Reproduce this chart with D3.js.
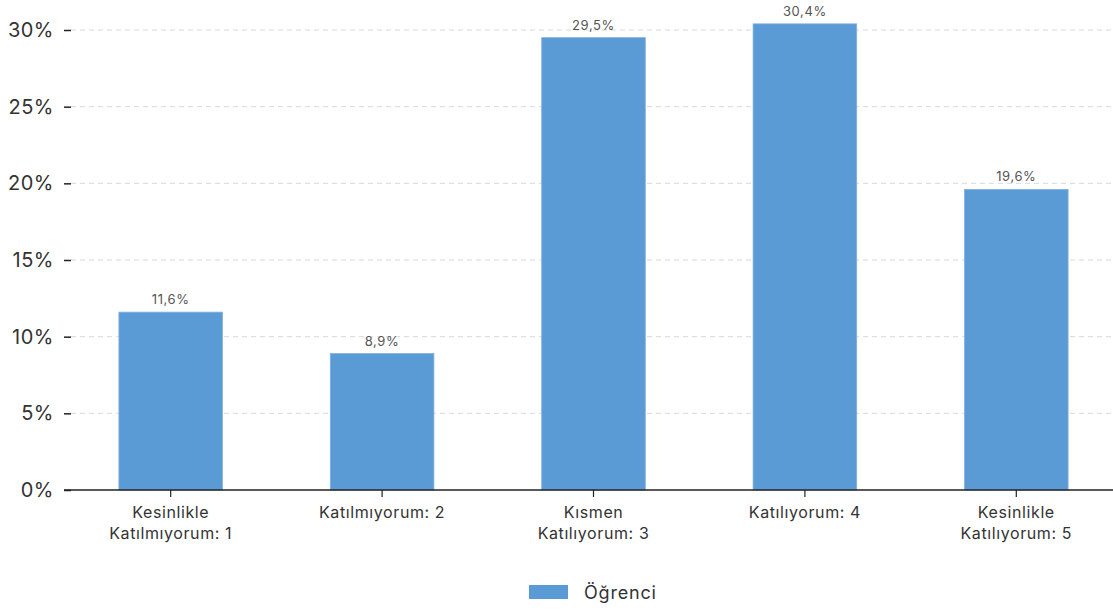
<!DOCTYPE html>
<html><head><meta charset="utf-8">
<script src="https://cdn.jsdelivr.net/npm/d3@7"></script>
<style>body{margin:0;background:#fff;} svg{display:block;font-family:"Inter","Noto Sans",sans-serif;}</style>
</head><body><svg id="c" width="1113" height="613"></svg>
<script>
const categories = [["Kesinlikle","Katılmıyorum: 1"],["Katılmıyorum: 2"],["Kısmen","Katılıyorum: 3"],["Katılıyorum: 4"],["Kesinlikle","Katılıyorum: 5"]];
const values = [11.6, 8.9, 29.5, 30.4, 19.6];
const yTicks = [0,5,10,15,20,25,30];
const seriesName = "Öğrenci";
const color = "#5b9bd5";

const svg = d3.select("#c");
const x = d3.scaleBand().domain(d3.range(categories.length)).range([65,1122]).paddingInner(0.51).paddingOuter(0.255);
const y = d3.scaleLinear().domain([0,30]).range([490,30]);

// grid
svg.append("g").selectAll("line").data(yTicks.filter(d=>d>0)).join("line")
  .attr("x1",71).attr("x2",1113).attr("y1",d=>y(d)).attr("y2",d=>y(d))
  .attr("stroke","#d9d9d9").attr("stroke-dasharray","5,4");

// y axis
const ya = svg.append("g").attr("transform","translate(71,0)")
  .call(d3.axisLeft(y).tickValues(yTicks).tickFormat(d=>d+"%").tickSizeOuter(0).tickSize(7).tickPadding(10));
ya.select(".domain").remove();
ya.selectAll(".tick line").attr("stroke","#222").attr("stroke-width",1.5);
ya.selectAll("text").attr("font-size",20).attr("fill","#333").attr("font-family","Inter,sans-serif").attr("letter-spacing",0.5);

// bars
svg.append("g").selectAll("rect").data(values).join("rect")
  .attr("x",(d,i)=>x(i)).attr("width",x.bandwidth())
  .attr("y",d=>y(d)).attr("height",d=>y(0)-y(d))
  .attr("fill",color).attr("stroke","#7fb0e0").attr("stroke-width",0.8);

// value labels
svg.append("g").selectAll("text").data(values).join("text")
  .attr("x",(d,i)=>x(i)+x.bandwidth()/2).attr("y",d=>y(d)-8)
  .attr("text-anchor","middle").attr("font-size",13).attr("letter-spacing",0.6).attr("fill","#555")
  .text(d=>d.toFixed(1).replace(".",",")+"%");

// x axis
svg.append("line").attr("x1",64).attr("x2",1113).attr("y1",y(0)).attr("y2",y(0)).attr("stroke","#222").attr("stroke-width",1.5);
const xg = svg.append("g").selectAll("g").data(categories).join("g")
  .attr("transform",(d,i)=>`translate(${x(i)+x.bandwidth()/2},${y(0)})`);
xg.append("line").attr("y1",0).attr("y2",7).attr("stroke","#222").attr("stroke-width",1.2);
xg.append("text").attr("text-anchor","middle").attr("font-size",16).attr("letter-spacing",0.6).attr("fill","#333")
  .selectAll("tspan").data(d=>d).join("tspan").attr("x",0).attr("y",(d,i)=>28+i*21).text(d=>d);

// legend
const lg = svg.append("g").attr("transform","translate(529,585)");
lg.append("rect").attr("width",39).attr("height",14).attr("fill",color);
lg.append("text").attr("x",55).attr("y",14).attr("font-size",18).attr("letter-spacing",0.8).attr("fill","#333").text(seriesName);
</script></body></html>
